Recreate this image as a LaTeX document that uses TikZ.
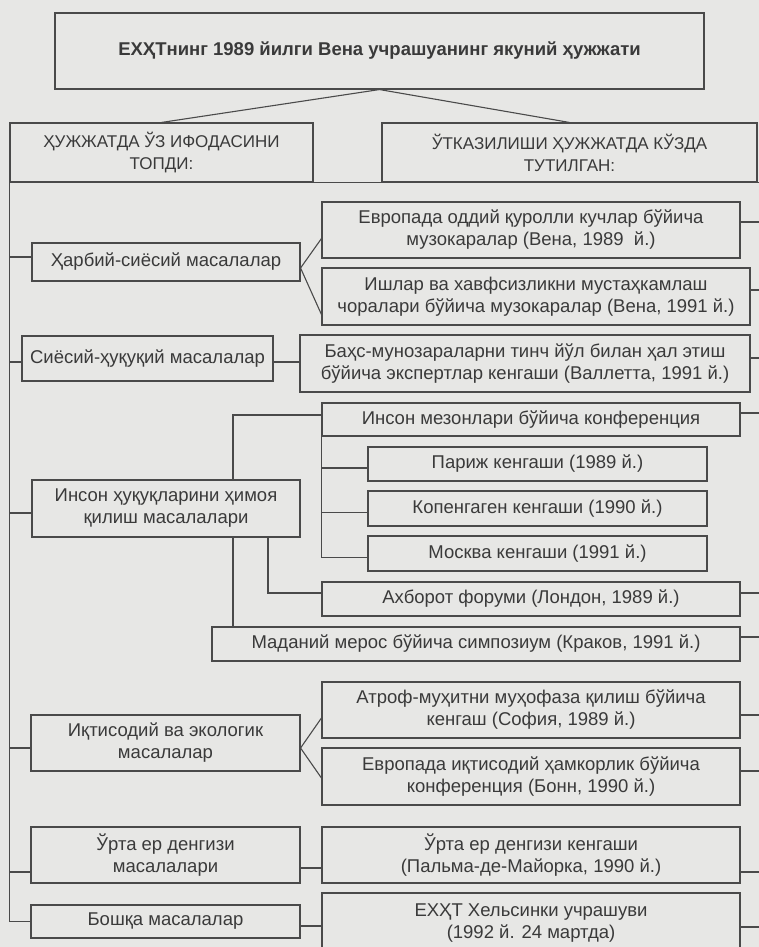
\documentclass[tikz,border=0pt]{standalone}
\usepackage{fontspec}
\setmainfont{Liberation Sans}
\definecolor{bg}{HTML}{E7E7E5}
\definecolor{lc}{HTML}{4A4A4A}
\definecolor{tc}{HTML}{3A3A3A}
\tikzset{
  bx/.style={draw=lc, line width=1.1pt, fill=bg, inner sep=0pt, align=center, text=tc,
    font=\fontsize{18.5}{22}\selectfont},
  ln/.style={draw=lc, line width=1.1pt},
}
\newcommand\Bx[7][]{%
  \node[bx,#1,minimum width=\fpeval{#5-#3}pt,minimum height=\fpeval{#6-#4}pt]
    (#2) at (\fpeval{(#3+#5)/2},\fpeval{(#4+#6)/2}) {#7};}
\begin{document}
\begin{tikzpicture}[x=1pt,y=-1pt]
\clip (0,0) rectangle (759,947);
\fill[bg] (0,0) rectangle (759,947);
% boxes
\Bx[font=\bfseries\fontsize{18.5}{22}\selectfont]{top}{55}{13}{704}{89}{ЕХҲТнинг 1989 йилги Вена учрашуанинг якуний ҳужжати}
\Bx[font=\fontsize{17}{22}\selectfont]{hl}{10}{123}{313}{182}{ҲУЖЖАТДА ЎЗ ИФОДАСИНИ\\ТОПДИ:}
\Bx[font=\fontsize{17}{22}\selectfont]{hr}{382}{123}{757}{182}{ЎТКАЗИЛИШИ ҲУЖЖАТДА КЎЗДА\\ТУТИЛГАН:}
\Bx{harb}{32}{243}{300}{281}{Ҳарбий-сиёсий масалалар}
\Bx{eo}{322}{202}{740}{258}{Европада оддий қуролли кучлар бўйича\\музокаралар (Вена, 1989\ \ й.)}
\Bx{ish}{322}{268}{750}{325}{Ишлар ва хавфсизликни мустаҳкамлаш\\чоралари бўйича музокаралар (Вена, 1991 й.)}
\Bx{siyo}{22}{336}{273}{381}{Сиёсий-ҳуқуқий масалалар}
\Bx{bahs}{300}{335}{750}{392}{Баҳс-мунозараларни тинч йўл билан ҳал этиш\\бўйича экспертлар кенгаши (Валлетта, 1991 й.)}
\Bx{im}{322}{403}{740}{436}{Инсон мезонлари бўйича конференция}
\Bx{par}{368}{447}{707}{481}{Париж кенгаши (1989 й.)}
\Bx{kop}{368}{491}{707}{526}{Копенгаген кенгаши (1990 й.)}
\Bx{mos}{368}{536}{707}{571}{Москва кенгаши (1991 й.)}
\Bx{inson}{32}{480}{300}{537}{Инсон ҳуқуқларини ҳимоя\\қилиш масалалари}
\Bx{axb}{322}{582}{740}{616}{Ахборот форуми (Лондон, 1989 й.)}
\Bx{mad}{212}{627}{740}{661}{Маданий мерос бўйича симпозиум (Краков, 1991 й.)}
\Bx{atr}{322}{682}{740}{738}{Атроф-муҳитни муҳофаза қилиш бўйича\\кенгаш (София, 1989 й.)}
\Bx{eiq}{322}{748}{740}{805}{Европада иқтисодий ҳамкорлик бўйича\\конференция (Бонн, 1990 й.)}
\Bx{iqt}{31}{715}{300}{771}{Иқтисодий ва экологик\\масалалар}
\Bx{urta}{31}{827}{300}{883}{Ўрта ер денгизи\\масалалари}
\Bx{urtak}{322}{827}{740}{883}{Ўрта ер денгизи кенгаши\\(Пальма-де-Майорка, 1990 й.)}
\Bx{boshqa}{31}{905}{300}{938}{Бошқа масалалар}
\Bx{hel}{322}{893}{740}{953}{ЕХҲТ Хельсинки учрашуви\\(1992 й. 24 мартда)}
% top connectors
\draw[ln] (top.south) -- (hl.north);
\draw[ln] (top.south) -- (hr.north);
% container
\draw[ln] (hl.south west) -- (hr.south east) -- ++(5,0);
\draw[ln] (hl.south west) |- (boshqa.west);
\draw[ln] ([yshift=5pt]harb.west) -| (hl.south west);
\draw[ln] ([yshift=-3.5pt]siyo.west) -| (hl.south west);
\draw[ln] ([yshift=-4.5pt]inson.west) -| (hl.south west);
\draw[ln] ([yshift=-5pt]iqt.west) -| (hl.south west);
\draw[ln] ([yshift=-17pt]urta.west) -| (hl.south west);
% right stubs
\foreach \n/\s in {eo/8, ish/6.5, bahs/5.5, im/6.5, axb/6, mad/7, atr/-5, eiq/5.5, urtak/-17, hel/-4}
  \draw[ln] ([yshift=\s pt]\n.east) -- ++(30,0);
% internal links
\draw[ln] ([yshift=-6pt]harb.east) -- ([yshift=20pt]eo.south west);
\draw[ln] ([yshift=-6pt]harb.east) -- ([yshift=-18pt]ish.west);
\draw[ln] ([yshift=-3.5pt]siyo.east) -- ([yshift=1.5pt]bahs.west);
\draw[ln] ([xshift=67pt]inson.north) |- ([yshift=4.5pt]im.west);
\coordinate (p1) at ([xshift=67pt]inson.south);
\draw[ln] (p1) -- (p1 |- mad.north);
\draw[ln] ([xshift=102pt]inson.south) |- ([yshift=6pt]axb.west);
\draw[ln] (im.south west) |- ([yshift=-4pt]mos.west);
\draw[ln] ([yshift=-4pt]par.west) -| (im.south west);
\draw[ln] ([yshift=-4pt]kop.west) -| (im.south west);
\draw[ln] ([yshift=-5pt]iqt.east) -- ([yshift=-8pt]atr.west);
\draw[ln] ([yshift=-5pt]iqt.east) -- ([yshift=-1.5pt]eiq.west);
\draw[ln] ([yshift=-13pt]urta.east) -- ([yshift=-13pt]urtak.west);
\draw[ln] ([yshift=-4.5pt]boshqa.east) -- ([yshift=-3pt]hel.west);
\end{tikzpicture}
\end{document}
